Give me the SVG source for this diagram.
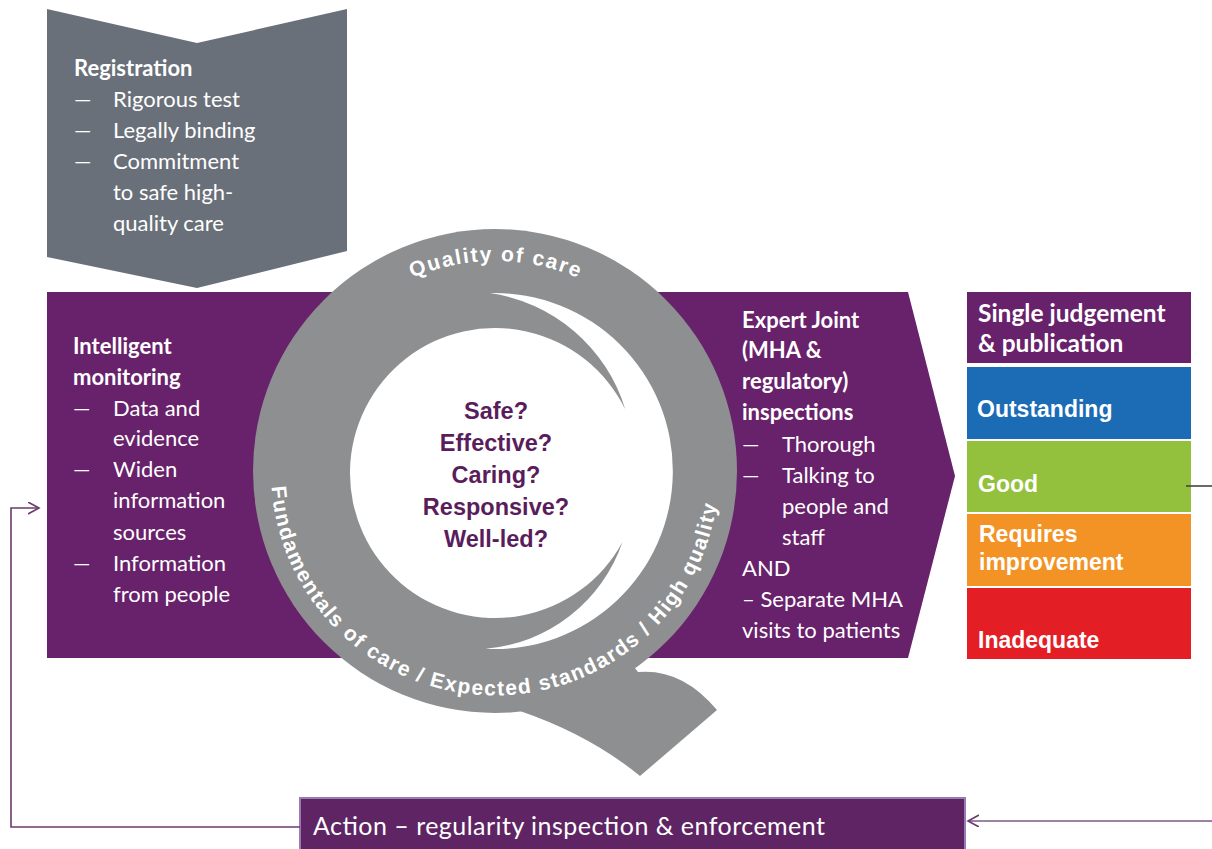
<svg xmlns="http://www.w3.org/2000/svg" width="1212" height="849" viewBox="0 0 1212 849">
<defs>
<style>
.cal{font-family:Lato,"Open Sans","Liberation Sans",sans-serif;fill:#fff;font-size:22px}
.b{font-weight:bold}
.ar{font-family:"Liberation Sans",Arial,sans-serif;font-weight:bold;fill:#fff;font-size:23px}
.q{font-family:"Liberation Sans",Arial,sans-serif;font-weight:bold;fill:#5a1d5c;font-size:23.5px;text-anchor:middle}
.ring{font-family:"Liberation Sans",Arial,sans-serif;font-weight:bold;fill:#fff;font-size:21px}
.conn{fill:none;stroke-width:1.6}
.gray{fill:#8d8f91}
</style>
<marker id="ahp" markerUnits="userSpaceOnUse" markerWidth="14" markerHeight="14" refX="11" refY="6" orient="auto">
<path d="M0,0 L11,6 L0,12" fill="none" stroke="#6b3a6e" stroke-width="1.6"/>
</marker>
<path id="topArc" d="M 285 471 A 210 210 0 0 1 705 471"/>
<path id="botArc" d="M 271.5 486.6 A 224 224 0 0 0 717.8 494.4"/>
</defs>
<rect width="1212" height="849" fill="#fff"/>

<g id="registration">
<polygon points="47,9 197,43 347,9 347,251 197,288 47,257" fill="#697079"/>
<text class="cal b" x="74" y="76">Registration</text>
<text class="cal" x="74" y="107">—</text><text class="cal" x="113" y="107">Rigorous test</text>
<text class="cal" x="74" y="138">—</text><text class="cal" x="113" y="138">Legally binding</text>
<text class="cal" x="74" y="169">—</text><text class="cal" x="113" y="169">Commitment</text>
<text class="cal" x="113" y="200">to safe high-</text>
<text class="cal" x="113" y="231">quality care</text>
</g>

<g id="band">
<polygon points="47,292 908,292 955,476 908,658 47,658" fill="#68216b"/>
</g>

<g id="monitoring">
<text class="cal b" x="73" y="354">Intelligent</text>
<text class="cal b" x="73" y="385">monitoring</text>
<text class="cal" x="73" y="416">—</text><text class="cal" x="113" y="416">Data and</text>
<text class="cal" x="113" y="446">evidence</text>
<text class="cal" x="73" y="477">—</text><text class="cal" x="113" y="477">Widen</text>
<text class="cal" x="113" y="508">information</text>
<text class="cal" x="113" y="540">sources</text>
<text class="cal" x="73" y="571">—</text><text class="cal" x="113" y="571">Information</text>
<text class="cal" x="113" y="602">from people</text>
</g>

<g id="inspections">
<text class="cal b" x="742" y="328">Expert Joint</text>
<text class="cal b" x="742" y="358">(MHA &amp;</text>
<text class="cal b" x="742" y="389">regulatory)</text>
<text class="cal b" x="742" y="420">inspections</text>
<text class="cal" x="742" y="452">—</text><text class="cal" x="782" y="452">Thorough</text>
<text class="cal" x="742" y="483">—</text><text class="cal" x="782" y="483">Talking to</text>
<text class="cal" x="782" y="514">people and</text>
<text class="cal" x="782" y="545">staff</text>
<text class="cal" x="742" y="576">AND</text>
<text class="cal" x="742" y="607">– Separate MHA</text>
<text class="cal" x="742" y="638">visits to patients</text>
</g>

<g id="quality-q">
<path class="gray" d="M 625 655 L 638 672 Q 682 668 717 710 L 640 776 Q 590 735 520 711 L 540 690 Z"/>
<circle class="gray" cx="495" cy="471" r="242"/>
<path fill="#fff" d="M 490 293.1 A 178 178 0 1 1 485.7 648.8 A 159 159 0 0 0 622.5 542 A 145 145 0 1 1 625.1 409 A 166 166 0 0 0 490 293.1 Z"/>
<text class="ring"><textPath href="#topArc" startOffset="50%" text-anchor="middle" textLength="170" lengthAdjust="spacing">Quality of care</textPath></text>
<text class="ring"><textPath href="#botArc" startOffset="0" textLength="655" lengthAdjust="spacing">Fundamentals of care / Expected standards / High quality</textPath></text>
<text class="q" x="496" y="419">Safe?</text>
<text class="q" x="496" y="451">Effective?</text>
<text class="q" x="496" y="483">Caring?</text>
<text class="q" x="496" y="515">Responsive?</text>
<text class="q" x="496" y="547">Well-led?</text>
</g>

<g id="judgement">
<rect x="967" y="292" width="224" height="71" fill="#68216b"/>
<text class="cal b" x="978" y="322" style="font-size:24.5px">Single judgement</text>
<text class="cal b" x="978" y="352" style="font-size:24.5px">&amp; publication</text>
</g>
<g id="outstanding">
<rect x="967" y="367" width="224" height="72" fill="#1b6cb5"/>
<text class="ar" x="977" y="417">Outstanding</text>
</g>
<g id="good">
<rect x="967" y="441" width="224" height="71" fill="#93c13d"/>
<text class="ar" x="978" y="492">Good</text>
</g>
<g id="requires-improvement">
<rect x="967" y="514" width="224" height="72" fill="#f39325"/>
<text class="ar" x="979" y="542">Requires</text>
<text class="ar" x="979" y="570">improvement</text>
</g>
<g id="inadequate">
<rect x="967" y="588" width="224" height="71" fill="#e31e25"/>
<text class="ar" x="978" y="648">Inadequate</text>
</g>

<g id="action">
<rect x="300" y="798" width="665" height="53" fill="#5e2463" stroke="#9a7ab2" stroke-width="2"/>
<text class="cal" x="313" y="835" style="font-size:25px" textLength="512" lengthAdjust="spacing">Action – regularity inspection &amp; enforcement</text>
</g>

<g id="connectors">
<path class="conn" stroke="#6b3a6e" d="M 300 827 L 11 827 L 11 508 L 39 508" marker-end="url(#ahp)"/>
<path class="conn" stroke="#444" d="M 1186 486 L 1212 486"/>
<path class="conn" stroke="#7b5b80" d="M 1212 821 L 968 821" marker-end="url(#ahp)"/>
</g>
</svg>
